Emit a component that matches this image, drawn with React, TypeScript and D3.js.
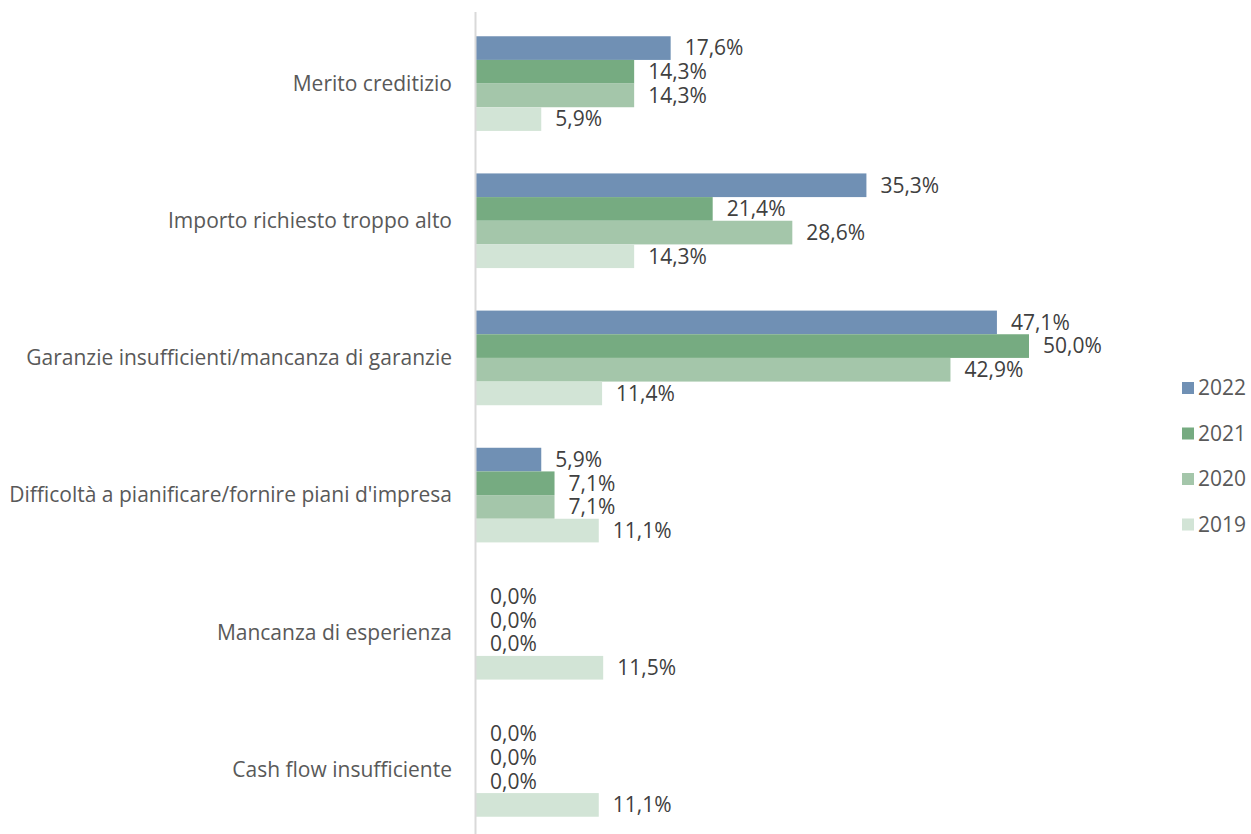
import React from 'react';
import * as d3 from 'd3';

const categories = [
  'Merito creditizio',
  'Importo richiesto troppo alto',
  'Garanzie insufficienti/mancanza di garanzie',
  "Difficoltà a pianificare/fornire piani d'impresa",
  'Mancanza di esperienza',
  'Cash flow insufficiente',
];
const years = ['2022', '2021', '2020', '2019'];
const v2022 = [17.6, 35.3, 47.1, 5.9, 0, 0];
const v2021 = [14.3, 21.4, 50.0, 7.1, 0, 0];
const v2020 = [14.3, 28.6, 42.9, 7.1, 0, 0];
const v2019 = [5.9, 14.3, 11.4, 11.1, 11.5, 11.1];
const seriesValues = [v2022, v2021, v2020, v2019];
const colors = ['#7090b4', '#76ab81', '#a4c6aa', '#d2e4d6'];

const font = "'Open Sans', sans-serif";
const fmt = (v: number) => v.toFixed(1).replace('.', ',') + '%';

const App = () => {
  const width = 1251, height = 834;
  const x0 = 476;
  const x = d3.scaleLinear().domain([0, 50]).range([x0, 1029]);
  const y = d3.scaleBand().domain(categories).range([15, 838]).paddingInner(0.31).paddingOuter(0.155);
  const yInner = d3.scaleBand().domain(years).range([0, y.bandwidth()]);
  const fs = 21;

  return (
    <svg width={width} height={height} style={{ position: 'absolute', left: 0, top: 0 }} fontFamily={font}>
      <rect width={width} height={height} fill="#fff" />
      {categories.map((c, ci) => (
        <g key={c} transform={`translate(0, ${y(c)})`}>
          <text x={452} y={y.bandwidth() / 2} dy="0.35em" textAnchor="end" fontSize={fs} fill="#595959">{c}</text>
          {years.map((yr, si) => {
            const v = seriesValues[si][ci];
            const by = yInner(yr)!;
            return (
              <g key={yr}>
                <rect x={x0} y={by} width={x(v) - x0} height={yInner.bandwidth()} fill={colors[si]} />
                <text x={x(v) + 14} y={by + yInner.bandwidth() / 2} dy="0.35em" fontSize={fs} fill="#404040">{fmt(v)}</text>
              </g>
            );
          })}
        </g>
      ))}
      <line x1={x0 - 0.5} x2={x0 - 0.5} y1={12} y2={834} stroke="#d9d9d9" strokeWidth={2} />
      {years.map((yr, i) => (
        <g key={yr} transform={`translate(1182, ${388 + i * 45.5})`}>
          <rect x={0} y={-6} width={12} height={12} fill={colors[i]} />
          <text x={16} y={0} dy="0.35em" fontSize={fs} fill="#595959">{yr}</text>
        </g>
      ))}
    </svg>
  );
};

export default App;
